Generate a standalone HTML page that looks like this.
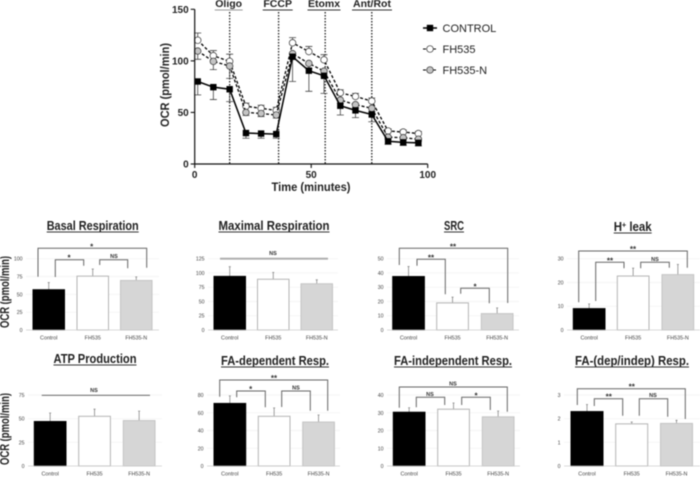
<!DOCTYPE html>
<html>
<head>
<meta charset="utf-8">
<style>
html,body{margin:0;padding:0;background:#fff;width:700px;height:479px;overflow:hidden}
svg{display:block;font-family:"Liberation Sans",sans-serif;filter:blur(0.5px)}
</style>
</head>
<body>
<svg id="figure" xmlns="http://www.w3.org/2000/svg" width="700" height="479" viewBox="0 0 700 479"></svg>
<script>
// ---- Time-course data ----
const timePoints = [1.3, 8, 15, 22, 28.5, 35, 42, 49, 55.5, 62.5, 69, 76, 83, 89.5, 96];
const controlOcr = [80, 74.5, 72.5, 30, 29.5, 29, 104, 90.5, 85.5, 56.5, 52, 48, 22, 21, 20.5];
const controlErr = [13, 12, 12, 5, 4.5, 4, 24, 20, 17, 9, 7, 7, 3, 3, 3];
const fh535Ocr = [120, 105, 99.5, 56, 54, 52, 117.5, 109, 101, 69, 65.5, 61, 32, 31, 29.5];
const fh535Err = [7, 5, 7, 3, 3, 3, 5, 5, 5, 3, 3, 3, 2, 2, 2];
const fh535nOcr = [109.5, 99.5, 95, 50, 49, 47.5, 107, 97.5, 90, 62, 57.5, 54, 26, 25.5, 24];
const fh535nErr = [8, 8, 12, 3, 3, 3, 5, 5, 5, 3, 3, 3, 2, 2, 2];
const injectionTimes = [15, 36, 56, 76];
const injectionNames = ["Oligo", "FCCP", "Etomx", "Ant/Rot"];
const mainYTicks = [0, 50, 100, 150];
const mainXTicks = [0, 50, 100];

// ---- Bar-panel data ----
const groups = ["Control", "FH535", "FH535-N"];
const basalValues = [56.5, 75.5, 69.5];
const basalErrors = [10, 10, 5];
const basalTicks = [0, 25, 50, 75, 100];
const maximalValues = [94, 89, 81];
const maximalErrors = [17, 12, 7];
const maximalTicks = [0, 25, 50, 75, 100, 125];
const srcValues = [37.5, 19, 11.5];
const srcErrors = [7, 4, 4];
const srcTicks = [0, 10, 20, 30, 40, 50];
const leakValues = [9, 22.7, 23.3];
const leakErrors = [2, 3.3, 4.3];
const leakTicks = [0, 10, 20, 30];
const atpValues = [47, 52.5, 48];
const atpErrors = [9, 7.5, 10];
const atpTicks = [0, 25, 50, 75];
const faDepValues = [70.5, 56, 49.5];
const faDepErrors = [8.5, 9.5, 8];
const faDepTicks = [0, 20, 40, 60, 80];
const faIndepValues = [30.3, 32, 27.7];
const faIndepErrors = [2.5, 3.5, 3.3];
const faIndepTicks = [0, 10, 20, 30, 40];
const faRatioValues = [2.3, 1.78, 1.8];
const faRatioErrors = [0.3, 0.08, 0.13];
const faRatioTicks = [0, 1, 2, 3];

const svg = document.getElementById("figure");
const NS = "http://www.w3.org/2000/svg";
function mk(tag, attrs, parent) {
  const e = document.createElementNS(NS, tag);
  for (const k in attrs) e.setAttribute(k, attrs[k]);
  (parent || svg).appendChild(e);
  return e;
}
function txt(content, attrs, parent) {
  const e = mk("text", attrs, parent);
  e.textContent = content;
  return e;
}

// ---- Main line chart ----
const mainX = v => 194.7 + v * (427.7 - 194.7) / 100;
const mainY = v => 164 - v * (164 - 9.3) / 150;

const mainG = mk("g", {});



injectionTimes.forEach((t, i) => {
  let el = mk("line", {x1: mainX(t), x2: mainX(t), y1: 12, y2: 164, stroke: "#222", "stroke-width": 1.3, "stroke-dasharray": "1.5 1.5"}, mainG);
  
  
  const cx = [228.7, 277.7, 324, 372][i];
  el = txt(injectionNames[i], {x: cx, y: 7, "text-anchor": "middle", "font-size": 10.5, "font-weight": "bold", fill: "#222"}, mainG);
  
  
  const hw = [14, 15, 16.5, 20][i];
  el = mk("line", {x1: cx - hw, x2: cx + hw, y1: 10, y2: 10, stroke: i === 0 ? "#999" : "#333", "stroke-width": 1}, mainG);
  
  
});

const seriesList = [
  {name: "fh535", vals: fh535Ocr, errs: fh535Err, fill: "#fff", dash: "3 2", w: 1.3, square: false, dir: 1},
  {name: "fh535-n", vals: fh535nOcr, errs: fh535nErr, fill: "#c4c4c4", dash: "3 2", w: 1.3, square: false, dir: -1},
  {name: "control", vals: controlOcr, errs: controlErr, fill: "#000", dash: "", w: 1.5, square: true, dir: -1}
];
seriesList.forEach(s => {
  s.errs.forEach((er, i) => {
    const x = mainX(timePoints[i]);
    const yEnd = mainY(s.vals[i] + s.dir * er);
    const el = mk("path", {d: `M${x} ${mainY(s.vals[i])}V${yEnd}M${x - 3.5} ${yEnd}H${x + 3.5}`, fill: "none", stroke: "#444", "stroke-width": 0.8}, mainG);
    
    
  });
});
seriesList.forEach(s => {
  const pts = s.vals.map((v, i) => mainX(timePoints[i]) + "," + mainY(v)).join(" ");
  let line = mk("polyline", {points: pts, fill: "none", stroke: "#000", "stroke-width": s.w, "stroke-dasharray": s.dash}, mainG);
  
  
  s.vals.forEach((v, i) => {
    const x = mainX(timePoints[i]), y = mainY(v);
    let m;
    if (s.square) m = mk("rect", {x: x - 3.2, y: y - 3.2, width: 6.4, height: 6.4, fill: "#000"}, mainG);
    else m = mk("circle", {cx: x, cy: y, r: 3.3, fill: s.fill, stroke: "#333", "stroke-width": 0.7}, mainG);
    
    
  });
});

let axisEl = mk("path", {d: `M${mainX(0)} ${mainY(150)}V${mainY(0)}H${mainX(100)}`, fill: "none", stroke: "#111", "stroke-width": 1.2}, mainG);


mainYTicks.forEach(t => {
  let el = mk("line", {x1: mainX(0) - 4, x2: mainX(0), y1: mainY(t), y2: mainY(t), stroke: "#111", "stroke-width": 1.1}, mainG);
  
  
  el = txt(t, {x: mainX(0) - 6, y: mainY(t) + 3.6, "text-anchor": "end", "font-size": 10, "font-weight": "bold", fill: "#222"}, mainG);
  
  
});
mainXTicks.forEach(t => {
  let el = mk("line", {x1: mainX(t), x2: mainX(t), y1: 164, y2: 168, stroke: "#111", "stroke-width": 1.1}, mainG);
  
  
  el = txt(t, {x: mainX(t), y: 178, "text-anchor": "middle", "font-size": 10, "font-weight": "bold", fill: "#222"}, mainG);
  
  
});
let mainLabel = txt("OCR (pmol/min)", {transform: "translate(169,85) rotate(-90)", "text-anchor": "middle", "font-size": 11.5, "font-weight": "bold", fill: "#222", textLength: 84, lengthAdjust: "spacingAndGlyphs"}, mainG);


mainLabel = txt("Time (minutes)", {x: 311, y: 191, "text-anchor": "middle", "font-size": 11.5, "font-weight": "bold", fill: "#222", textLength: 79, lengthAdjust: "spacingAndGlyphs"}, mainG);



// ---- Legend ----
const legendG = mk("g", {});


[["CONTROL", 28, true, "#000"], ["FH535", 49, false, "#fff"], ["FH535-N", 70, false, "#c4c4c4"]].forEach(r => {
  const g = mk("g", {}, legendG);
  
  
  mk("line", {x1: 423, x2: 437, y1: r[1], y2: r[1], stroke: "#000", "stroke-width": r[2] ? 1.5 : 1.1, "stroke-dasharray": r[2] ? "" : "3 2"}, g);
  if (r[2]) mk("rect", {x: 426.8, y: r[1] - 3.2, width: 6.4, height: 6.4, fill: "#000"}, g);
  else mk("circle", {cx: 430, cy: r[1], r: 3.3, fill: r[3], stroke: "#333", "stroke-width": 0.7}, g);
  txt(r[0], {x: 442.5, y: r[1] + 4, "font-size": 11, fill: "#222"}, g);
});

// ---- Bar panels ----
const panels = [
  {name: "basal-respiration", title: "Basal Respiration", cx: 92.7, ty: 230, tw: 92, vals: basalValues, errs: basalErrors, ticks: basalTicks, ax: [26, 159], y0: 330, yTop: 258.7, bx: [33, 77, 120.5], bw: 31.5,
   notes: [[38, 276.7, 248.3, 146.7, 267.7, "*", 91.7], [55.3, 277, 259.7, 83.7, 265.7, "*", 69], [99.7, 265, 259.7, 127.7, 268.3, "NS", 114]]},
  {name: "maximal-respiration", title: "Maximal Respiration", cx: 274, ty: 230, tw: 111, vals: maximalValues, errs: maximalErrors, ticks: maximalTicks, ax: [208, 338], y0: 330, yTop: 258.7, bx: [214, 257.5, 301], bw: 31.5,
   line: [220, 328, 258.7, "#aaa", 1.8, 273, 255]},
  {name: "src", title: "SRC", cx: 454, ty: 230, tw: 20, vals: srcValues, errs: srcErrors, ticks: srcTicks, ax: [387, 519], y0: 330, yTop: 258.7, bx: [392.7, 436.7, 481.3], bw: 31.7,
   notes: [[399.3, 265, 248.3, 507.7, 303, "**", 453], [417, 265.7, 259.3, 445.3, 294.3, "**", 431], [460.7, 293.7, 288.3, 489.3, 303.3, "*", 475]]},
  {name: "h-leak", title: "H", sup: "+", rest: " leak", cx: 632.7, ty: 231, tw: 38, vals: leakValues, errs: leakErrors, ticks: leakTicks, ax: [567, 700], y0: 330, yTop: 258.7, bx: [573.3, 617.3, 662], bw: 31.7,
   notes: [[578.7, 302.3, 251, 687.3, 267.7, "**", 633], [595.7, 301, 262.3, 624, 268.3, "**", 610], [640.7, 268.3, 262.3, 669.3, 267.7, "NS", 655]]},
  {name: "atp-production", title: "ATP Production", cx: 95, ty: 363, tw: 83, vals: atpValues, errs: atpErrors, ticks: atpTicks, ax: [28, 162], y0: 466, yTop: 395, bx: [34.3, 78.7, 123.3], bw: 31.7,
   line: [41.7, 150, 395.3, "#555", 0.9, 94, 392]},
  {name: "fa-dependent-resp", title: "FA-dependent Resp.", cx: 275, ty: 365, tw: 108, vals: faDepValues, errs: faDepErrors, ticks: faDepTicks, ax: [207, 340], y0: 466, yTop: 395, bx: [214, 258.3, 302.7], bw: 31.7,
   notes: [[219.7, 396.7, 380, 327.7, 410.7, "**", 274], [236.7, 397.3, 391, 265.3, 407.3, "*", 250.7], [281.7, 407, 391, 310.3, 410.7, "NS", 296]]},
  {name: "fa-independent-resp", title: "FA-independent Resp.", cx: 453, ty: 365, tw: 118, vals: faIndepValues, errs: faIndepErrors, ticks: faIndepTicks, ax: [387, 520], y0: 466, yTop: 395, bx: [393.3, 437.7, 482.3], bw: 31.7,
   notes: [[399.3, 407.7, 387, 507.3, 411.7, "NS", 453], [416.3, 407.3, 397.3, 444.7, 405, "NS", 430], [461.7, 405, 397.3, 490.3, 410, "*", 476]]},
  {name: "fa-dep-indep-resp", title: "FA-(dep/indep) Resp.", cx: 632, ty: 365, tw: 114, vals: faRatioValues, errs: faRatioErrors, ticks: faRatioTicks, ax: [564, 700], y0: 466, yTop: 395, bx: [571, 615.7, 660.5], bw: 32,
   notes: [[577.3, 405, 388.7, 685.3, 419, "**", 631.7], [594.3, 406, 398.7, 622.7, 415.7, "**", 608.7], [639.3, 415.7, 398.7, 667.7, 416.7, "NS", 653]]}
];
const barFills = ["#000", "#fff", "#d6d6d6"];
const barStrokes = ["#000", "#b4b4b4", "#c4c4c4"];

panels.forEach(p => {
  const g = mk("g", {});
  
  
  const maxTick = p.ticks[p.ticks.length - 1];
  const yScale = v => p.y0 - v * (p.y0 - p.yTop) / maxTick;

  // title
  const t = txt(p.title, {x: p.cx, y: p.ty, "text-anchor": "middle", "font-size": 13, "font-weight": "bold", fill: "#222", textLength: p.tw, lengthAdjust: "spacingAndGlyphs"}, g);
  
  
  if (p.sup) {
    const s1 = mk("tspan", {"font-size": 8, dy: -3.5}, t);
    s1.textContent = p.sup;
    const s2 = mk("tspan", {dy: 3.5}, t);
    s2.textContent = p.rest;
  }
  const ul = mk("line", {x1: p.cx - p.tw / 2, x2: p.cx + p.tw / 2, y1: p.ty + 2, y2: p.ty + 2, stroke: "#333", "stroke-width": 1.1}, g);
  
  

  // gridlines and y ticks
  p.ticks.forEach(tk => {
    if (tk !== 0) {
      const gl = mk("line", {x1: p.ax[0], x2: p.ax[1], y1: yScale(tk), y2: yScale(tk), stroke: "#f1f1f1", "stroke-width": 0.7}, g);
      
      
    }
    const lb = txt(tk, {x: p.ax[0] - 3.5, y: yScale(tk) + 2, "text-anchor": "end", "font-size": 5.2, fill: "#444"}, g);
    
    
  });

  // bars
  p.vals.forEach((v, i) => {
    const x = p.bx[i], cx = x + p.bw / 2;
    const eb = mk("path", {d: `M${cx} ${yScale(v)}V${yScale(v + p.errs[i])}M${cx - 1} ${yScale(v + p.errs[i])}H${cx + 1}`, fill: "none", stroke: "#888", "stroke-width": 0.8}, g);
    
    
    const r = mk("rect", {x: x, y: yScale(v), width: p.bw, height: p.y0 - yScale(v), fill: barFills[i], stroke: barStrokes[i], "stroke-width": 1}, g);
    
    
    const lb = txt(groups[i], {x: cx, y: p.y0 + 9.5, "text-anchor": "middle", "font-size": 5.4, fill: "#444"}, g);
    
    
  });
  const ax = mk("line", {x1: p.ax[0], x2: p.ax[1], y1: p.y0, y2: p.y0, stroke: "#ccc", "stroke-width": 0.8}, g);
  
  

  // significance annotations
  if (p.line) {
    const l = p.line;
    const sl = mk("line", {x1: l[0], x2: l[1], y1: l[2], y2: l[2], stroke: l[3], "stroke-width": l[4]}, g);
    
    
    const st = txt("NS", {x: l[5], y: l[6], "text-anchor": "middle", "font-size": 5.5, "font-weight": "bold", fill: "#333"}, g);
    
    
  }
  (p.notes || []).forEach(n => {
    const br = mk("path", {d: `M${n[0]} ${n[1]}V${n[2]}H${n[3]}V${n[4]}`, fill: "none", stroke: "#666", "stroke-width": 1}, g);
    
    
    const isStar = n[5] !== "NS";
    const st = txt(n[5], {x: n[6], y: n[2] - (isStar ? 0 : 1.5) + (isStar ? 1 : 0), "text-anchor": "middle", "font-size": isStar ? 8 : 5.5, "font-weight": "bold", fill: "#333"}, g);
    
    
  });
});

// shared y-axis titles for the bar rows
let rowLabel = txt("OCR (pmol/min)", {transform: "translate(9,292) rotate(-90)", "text-anchor": "middle", "font-size": 12.5, "font-weight": "bold", fill: "#222", textLength: 72, lengthAdjust: "spacingAndGlyphs"});


rowLabel = txt("OCR (pmol/min)", {transform: "translate(9,429) rotate(-90)", "text-anchor": "middle", "font-size": 12.5, "font-weight": "bold", fill: "#222", textLength: 72, lengthAdjust: "spacingAndGlyphs"});


</script>
</body>
</html>
